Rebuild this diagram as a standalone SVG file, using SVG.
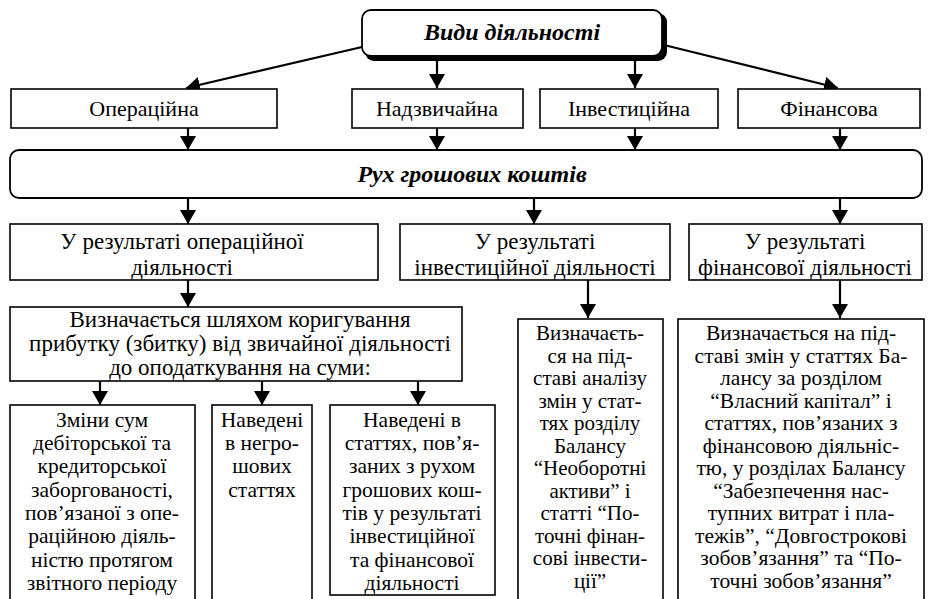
<svg xmlns="http://www.w3.org/2000/svg" width="931" height="599" viewBox="0 0 931 599">
  <style>
    .box { fill: #fff; stroke: #000; stroke-width: 1.6; }
    .rbox { fill: #fff; stroke: #000; stroke-width: 1.8; }
    .shadow { fill: #000; }
    .t { font-family: "Liberation Serif", "Times New Roman", "DejaVu Serif", serif; font-size: 21px; fill: #000; text-anchor: middle; }
    .h { font-family: "Liberation Serif", "Times New Roman", "DejaVu Serif", serif; font-size: 24px; font-weight: bold; font-style: italic; fill: #000; text-anchor: middle; }
    .kind { font-size: 22px; }
    .big { font-size: 23px; }
    .sub { font-size: 21.5px; }
    .wide { font-size: 21.5px; }
    .conn line { stroke: #000; stroke-width: 2.2; marker-end: url(#arrow); }
  </style>
  <defs>
    <marker id="arrow" viewBox="0 0 14 16" refX="14" refY="8" markerWidth="14" markerHeight="16" markerUnits="userSpaceOnUse" orient="auto">
      <path d="M0,0 L14,8 L0,16 Z" fill="#000"/>
    </marker>
  </defs>
  <rect width="931" height="599" fill="#fff"/>

  <!-- connectors -->
  <g id="connectors" class="conn">
    <line x1="362" y1="47" x2="186" y2="88"/>
    <line x1="437" y1="58" x2="437" y2="88"/>
    <line x1="635" y1="58" x2="635" y2="88"/>
    <line x1="664" y1="45" x2="838" y2="88"/>

    <line x1="188" y1="128" x2="188" y2="150"/>
    <line x1="437" y1="128" x2="437" y2="150"/>
    <line x1="635" y1="128" x2="635" y2="150"/>
    <line x1="840" y1="128" x2="840" y2="150"/>

    <line x1="188" y1="198" x2="188" y2="224"/>
    <line x1="534" y1="198" x2="534" y2="224"/>
    <line x1="840" y1="198" x2="840" y2="224"/>

    <line x1="188" y1="280" x2="188" y2="307"/>
    <line x1="588" y1="280" x2="588" y2="318"/>
    <line x1="840" y1="280" x2="840" y2="318"/>

    <line x1="100" y1="381" x2="100" y2="405"/>
    <line x1="262" y1="381" x2="262" y2="405"/>
    <line x1="418" y1="381" x2="418" y2="405"/>
  </g>

  <!-- top node -->
  <g id="n-kinds">
    <rect class="shadow" x="365" y="13" width="302" height="48" rx="9"/>
    <rect class="rbox" x="362" y="10" width="300" height="46" rx="9"/>
    <text class="h" x="512" y="40">Види діяльності</text>
  </g>

  <!-- kinds of activity -->
  <g id="n-operating">
    <rect class="box" x="11" y="89" width="266" height="39"/>
    <text class="t kind" x="144" y="116">Операційна</text>
  </g>
  <g id="n-extraordinary">
    <rect class="box" x="352" y="89" width="171" height="39"/>
    <text class="t kind" x="437" y="116">Надзвичайна</text>
  </g>
  <g id="n-investing">
    <rect class="box" x="540" y="89" width="178" height="39"/>
    <text class="t kind" x="629" y="116">Інвестиційна</text>
  </g>
  <g id="n-financing">
    <rect class="box" x="738" y="89" width="182" height="39"/>
    <text class="t kind" x="829" y="116">Фінансова</text>
  </g>

  <!-- cash flow -->
  <g id="n-cashflow">
    <rect class="rbox" x="10" y="150" width="912" height="48" rx="9"/>
    <text class="h" x="472" y="182">Рух грошових коштів</text>
  </g>

  <!-- flows by activity -->
  <g id="n-op-result">
    <rect class="box" x="10" y="224" width="368" height="56"/>
    <text class="t big" x="182" y="249">У результаті операційної</text>
    <text class="t big" x="182" y="275">діяльності</text>
  </g>
  <g id="n-inv-result">
    <rect class="box" x="400" y="224" width="270" height="56"/>
    <text class="t big" x="535" y="249">У результаті</text>
    <text class="t big" x="535" y="275">інвестиційної діяльності</text>
  </g>
  <g id="n-fin-result">
    <rect class="box" x="689" y="224" width="233" height="56"/>
    <text class="t big" x="805" y="249">У результаті</text>
    <text class="t big" x="805" y="275">фінансової діяльності</text>
  </g>

  <!-- operating: adjustment -->
  <g id="n-op-method">
    <rect class="box" x="10" y="307" width="452" height="74"/>
    <text class="t big" x="240" y="327">Визначається шляхом  коригування</text>
    <text class="t big" x="240" y="351">прибутку (збитку) від звичайної діяльності</text>
    <text class="t big" x="240" y="375">до оподаткування на суми:</text>
  </g>

  <!-- operating adjustments -->
  <g id="n-op-changes">
    <rect class="box" x="10" y="405" width="185" height="200"/>
    <text class="t sub" x="102" y="427">Зміни  сум</text>
    <text class="t sub" x="102" y="450">дебіторської та</text>
    <text class="t sub" x="102" y="473">кредиторської</text>
    <text class="t sub" x="102" y="497">заборгованості,</text>
    <text class="t sub" x="102" y="520">пов’язаної з опе-</text>
    <text class="t sub" x="102" y="543">раційною діяль-</text>
    <text class="t sub" x="102" y="567">ністю протягом</text>
    <text class="t sub" x="102" y="590">звітного періоду</text>
  </g>
  <g id="n-op-noncash">
    <rect class="box" x="212" y="405" width="100" height="200"/>
    <text class="t sub" x="262" y="427">Наведені</text>
    <text class="t sub" x="262" y="450">в негро-</text>
    <text class="t sub" x="262" y="473">шових</text>
    <text class="t sub" x="262" y="497">статтях</text>
  </g>
  <g id="n-op-other">
    <rect class="box" x="330" y="405" width="165" height="190"/>
    <text class="t sub" x="412" y="427">Наведені в</text>
    <text class="t sub" x="412" y="450">статтях, пов’я-</text>
    <text class="t sub" x="412" y="473">заних з рухом</text>
    <text class="t sub" x="412" y="497">грошових кош-</text>
    <text class="t sub" x="412" y="520">тів у результаті</text>
    <text class="t sub" x="412" y="543">інвестиційної</text>
    <text class="t sub" x="412" y="567">та фінансової</text>
    <text class="t sub" x="412" y="590">діяльності</text>
  </g>

  <!-- investing: method -->
  <g id="n-inv-method">
    <rect class="box" x="518" y="319" width="145" height="290"/>
    <text class="t" x="590" y="340">Визначаєть-</text>
    <text class="t" x="590" y="363">ся на під-</text>
    <text class="t" x="590" y="385">ставі аналізу</text>
    <text class="t" x="590" y="408">змін у стат-</text>
    <text class="t" x="590" y="430">тях розділу</text>
    <text class="t" x="590" y="453">Балансу</text>
    <text class="t" x="590" y="475">“Необоротні</text>
    <text class="t" x="590" y="498">активи” і</text>
    <text class="t" x="590" y="520">статті “По-</text>
    <text class="t" x="590" y="543">точні фінан-</text>
    <text class="t" x="590" y="565">сові інвести-</text>
    <text class="t" x="590" y="588">ції”</text>
  </g>

  <!-- financing: method -->
  <g id="n-fin-method">
    <rect class="box" x="678" y="319" width="246" height="290"/>
    <text class="t wide" x="801" y="340">Визначається на під-</text>
    <text class="t wide" x="801" y="363">ставі змін у статтях Ба-</text>
    <text class="t wide" x="801" y="385">лансу за розділом</text>
    <text class="t wide" x="801" y="408">“Власний капітал” і</text>
    <text class="t wide" x="801" y="430">статтях, пов’язаних з</text>
    <text class="t wide" x="801" y="453">фінансовою діяльніс-</text>
    <text class="t wide" x="801" y="475">тю, у розділах Балансу</text>
    <text class="t wide" x="801" y="498">“Забезпечення нас-</text>
    <text class="t wide" x="801" y="520">тупних витрат і пла-</text>
    <text class="t wide" x="801" y="543">тежів”, “Довгострокові</text>
    <text class="t wide" x="801" y="565">зобов’язання” та “По-</text>
    <text class="t wide" x="801" y="588">точні зобов’язання”</text>
  </g>
</svg>
